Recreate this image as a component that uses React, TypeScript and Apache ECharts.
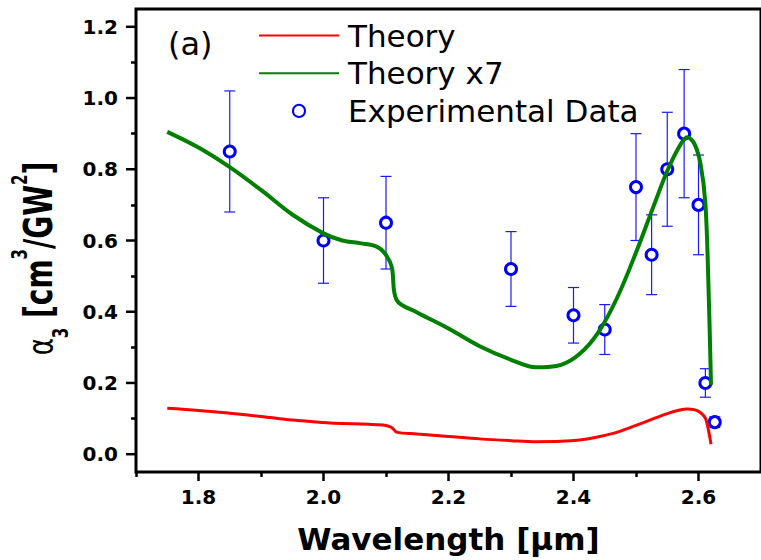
import React, { useEffect, useRef } from "react";
import * as echarts from "echarts";

// Computed absorption curve (Theory) and the same curve scaled by 7
const wavelength = [
  1.75, 1.8, 1.85, 1.9, 1.95, 2.0, 2.03, 2.06, 2.085, 2.098, 2.109, 2.117, 2.15,
  2.2, 2.25, 2.3, 2.34, 2.38, 2.41, 2.44, 2.47, 2.5, 2.53, 2.55, 2.57, 2.582,
  2.593, 2.603, 2.611, 2.616, 2.62,
];
const theory = [
  0.129, 0.123, 0.115, 0.106, 0.096, 0.089, 0.086, 0.085, 0.083, 0.081, 0.075,
  0.062, 0.057, 0.05, 0.043, 0.038, 0.035, 0.036, 0.04, 0.049, 0.062, 0.081,
  0.101, 0.114, 0.124, 0.127, 0.125, 0.117, 0.101, 0.067, 0.028,
];
const theoryX7 = [
  0.905, 0.861, 0.806, 0.742, 0.673, 0.62, 0.6, 0.592, 0.583, 0.564, 0.527,
  0.433, 0.398, 0.353, 0.303, 0.265, 0.244, 0.251, 0.282, 0.343, 0.44, 0.566,
  0.705, 0.795, 0.866, 0.89, 0.873, 0.817, 0.704, 0.47, 0.195,
];

// Measured points with symmetric error bars
const expWavelength = [1.85, 2.0, 2.1, 2.3, 2.4, 2.45, 2.5, 2.525, 2.55, 2.577, 2.6, 2.611, 2.626];
const expAlpha = [0.85, 0.6, 0.65, 0.52, 0.39, 0.35, 0.75, 0.56, 0.8, 0.9, 0.7, 0.2, 0.09];
const expError = [0.17, 0.12, 0.13, 0.105, 0.078, 0.07, 0.15, 0.112, 0.16, 0.18, 0.14, 0.04, 0.015];

const xMajor = [1.8, 2.0, 2.2, 2.4, 2.6];
const xMinor = [1.7, 1.9, 2.1, 2.3, 2.5];
const yMajor = [0, 0.2, 0.4, 0.6, 0.8, 1.0, 1.2];
const yMinor = [0.1, 0.3, 0.5, 0.7, 0.9, 1.1];

const FONT = "DejaVu Sans";

// y-axis title pieces: text, size, weight, baseline shift (up is negative)
const yTitleParts: [string, number, string, number][] = [
  ["\u03b1", 26, "normal", 0],
  ["3", 15, "bold", 11.3],
  [" [cm", 28, "bold", 0],
  ["3", 15, "bold", -18.4],
  ["/GW", 28, "bold", 0],
  ["2", 15, "bold", -18.4],
  ["]", 28, "bold", 0],
];

function buildYTitle() {
  const ctx = document.createElement("canvas").getContext("2d")!;
  const widths = yTitleParts.map(([t, size, weight]) => {
    ctx.font = `${weight} ${size}px "${FONT}"`;
    return ctx.measureText(t).width;
  });
  const total = widths.reduce((a, b) => a + b, 0);
  let cursor = -total / 2;
  const children = yTitleParts.map(([t, size, weight, shift], i) => {
    const el = {
      type: "text",
      x: cursor,
      y: shift - 0.346 * size,
      style: {
        text: t,
        fontFamily: FONT,
        fontSize: size,
        fontWeight: weight,
        fill: "#000",
        align: "left",
        verticalAlign: "middle",
      },
    };
    cursor += widths[i];
    return el;
  });
  return {
    type: "group",
    x: 52.4,
    y: 258.5,
    rotation: Math.PI / 2,
    scaleY: 1.38,
    children,
  };
}

export default function App() {
  const ref = useRef<HTMLDivElement>(null);

  useEffect(() => {
    if (!ref.current) return;
    const chart = echarts.init(ref.current, undefined, { renderer: "svg" });

    const xRange = { min: 1.7, max: 2.7 };
    const yRange = { min: -0.05, max: 1.25 };
    const tickStyle = { color: "#000", width: 2.5 };
    const labelStyle = {
      fontFamily: FONT,
      fontSize: 20,
      fontWeight: "bold" as const,
      color: "#000",
      formatter: (v: number) => v.toFixed(1),
    };
    // short outward ticks between the labelled values
    const minorTickAxis = (
      position: "bottom" | "left",
      range: { min: number; max: number },
      values: number[]
    ) => ({
      type: "value" as const,
      ...range,
      position,
      splitLine: { show: false },
      axisLine: { show: false, onZero: false },
      axisLabel: { show: false },
      axisTick: { show: true, inside: false, customValues: values, length: 5, lineStyle: tickStyle },
    });
    // long outward ticks at the labelled values, placed through the axis scales
    const majorTicks = (dir: "x" | "y", values: number[], length: number) => ({
      type: "custom",
      name: dir + "-ticks",
      silent: true,
      clip: false,
      z: 10,
      xAxisIndex: 0,
      yAxisIndex: 0,
      data: values.map((v) => (dir === "x" ? [v, yRange.min] : [xRange.min, v])),
      encode: { x: 0, y: 1 },
      renderItem: (_p: any, api: any) => {
        const c = api.coord([api.value(0), api.value(1)]);
        const shape =
          dir === "x"
            ? { x1: c[0], y1: c[1], x2: c[0], y2: c[1] + length }
            : { x1: c[0] - length, y1: c[1], x2: c[0], y2: c[1] };
        return { type: "line", shape, style: { stroke: "#000", lineWidth: 2.5 } };
      },
    });

    chart.setOption({
      animation: false,
      backgroundColor: "#ffffff",
      grid: {
        left: 136,
        top: 9,
        right: -10,
        bottom: 88,
        show: true,
        borderColor: "#000",
        borderWidth: 3,
        backgroundColor: "transparent",
      },
      legend: {
        orient: "vertical",
        left: 258,
        top: 20,
        padding: 0,
        itemWidth: 80,
        itemHeight: 12,
        itemGap: 6.7,
        data: [
          { name: "Theory", itemStyle: { opacity: 0 } },
          { name: "Theory x7", itemStyle: { opacity: 0 } },
          { name: "Experimental Data" },
        ],
        textStyle: {
          fontFamily: FONT,
          fontSize: 31,
          color: "#000",
          lineHeight: 30,
          padding: [0, 0, 0, 4],
        },
      },
      xAxis: [
        {
          type: "value",
          ...xRange,
          position: "bottom",
          splitLine: { show: false },
          name: "Wavelength [\u03bcm]",
          nameLocation: "middle",
          nameGap: 51,
          nameTextStyle: { fontFamily: FONT, fontSize: 31, fontWeight: "bold", color: "#000" },
          axisLine: { show: false, onZero: false },
          axisTick: { show: false },
          axisLabel: { ...labelStyle, customValues: xMajor, margin: 15 },
        },
        minorTickAxis("bottom", xRange, xMinor),
      ],
      yAxis: [
        {
          type: "value",
          ...yRange,
          position: "left",
          splitLine: { show: false },
          axisLine: { show: false, onZero: false },
          axisTick: { show: false },
          axisLabel: { ...labelStyle, customValues: yMajor, margin: 18 },
        },
        minorTickAxis("left", yRange, yMinor),
      ],
      graphic: [
        {
          type: "text",
          left: 168,
          top: 28,
          style: { text: "(a)", fontFamily: FONT, fontSize: 32, fill: "#000" },
        },
        buildYTitle(),
      ],
      series: [
        majorTicks("x", xMajor, 9),
        majorTicks("y", yMajor, 10),
        {
          name: "Theory",
          type: "line",
          xAxisIndex: 0,
          yAxisIndex: 0,
          data: wavelength.map((w, i) => [w, theory[i]]),
          symbol: "none",
          smooth: 0.35,
          lineStyle: { color: "#ff0000", width: 3 },
          itemStyle: { color: "#ff0000" },
        },
        {
          name: "Theory x7",
          type: "line",
          xAxisIndex: 0,
          yAxisIndex: 0,
          data: wavelength.map((w, i) => [w, theoryX7[i]]),
          symbol: "none",
          smooth: 0.35,
          lineStyle: { color: "#008000", width: 4 },
          itemStyle: { color: "#008000" },
        },
        {
          name: "Error",
          type: "custom",
          xAxisIndex: 0,
          yAxisIndex: 0,
          data: expWavelength.map((w, i) => [w, expAlpha[i], expError[i]]),
          encode: { x: 0, y: 1 },
          renderItem: (_params: any, api: any) => {
            const x = api.value(0);
            const y = api.value(1);
            const e = api.value(2);
            const top = api.coord([x, y + e]);
            const bot = api.coord([x, y - e]);
            const hw = 5.5;
            const style = { stroke: "#1a1aff", lineWidth: 1.2 };
            return {
              type: "group",
              children: [
                { type: "line", shape: { x1: top[0], y1: top[1], x2: bot[0], y2: bot[1] }, style },
                { type: "line", shape: { x1: top[0] - hw, y1: top[1], x2: top[0] + hw, y2: top[1] }, style },
                { type: "line", shape: { x1: bot[0] - hw, y1: bot[1], x2: bot[0] + hw, y2: bot[1] }, style },
              ],
            };
          },
        },
        {
          name: "Experimental Data",
          type: "scatter",
          xAxisIndex: 0,
          yAxisIndex: 0,
          data: expWavelength.map((w, i) => [w, expAlpha[i]]),
          symbol: "circle",
          symbolSize: 11,
          itemStyle: { color: "#ffffff", borderColor: "#0000ff", borderWidth: 3, opacity: 1 },
        },
      ],
    });

    return () => chart.dispose();
  }, []);

  return <div ref={ref} style={{ width: 761, height: 560, position: "absolute", left: 0, top: 0 }} />;
}
